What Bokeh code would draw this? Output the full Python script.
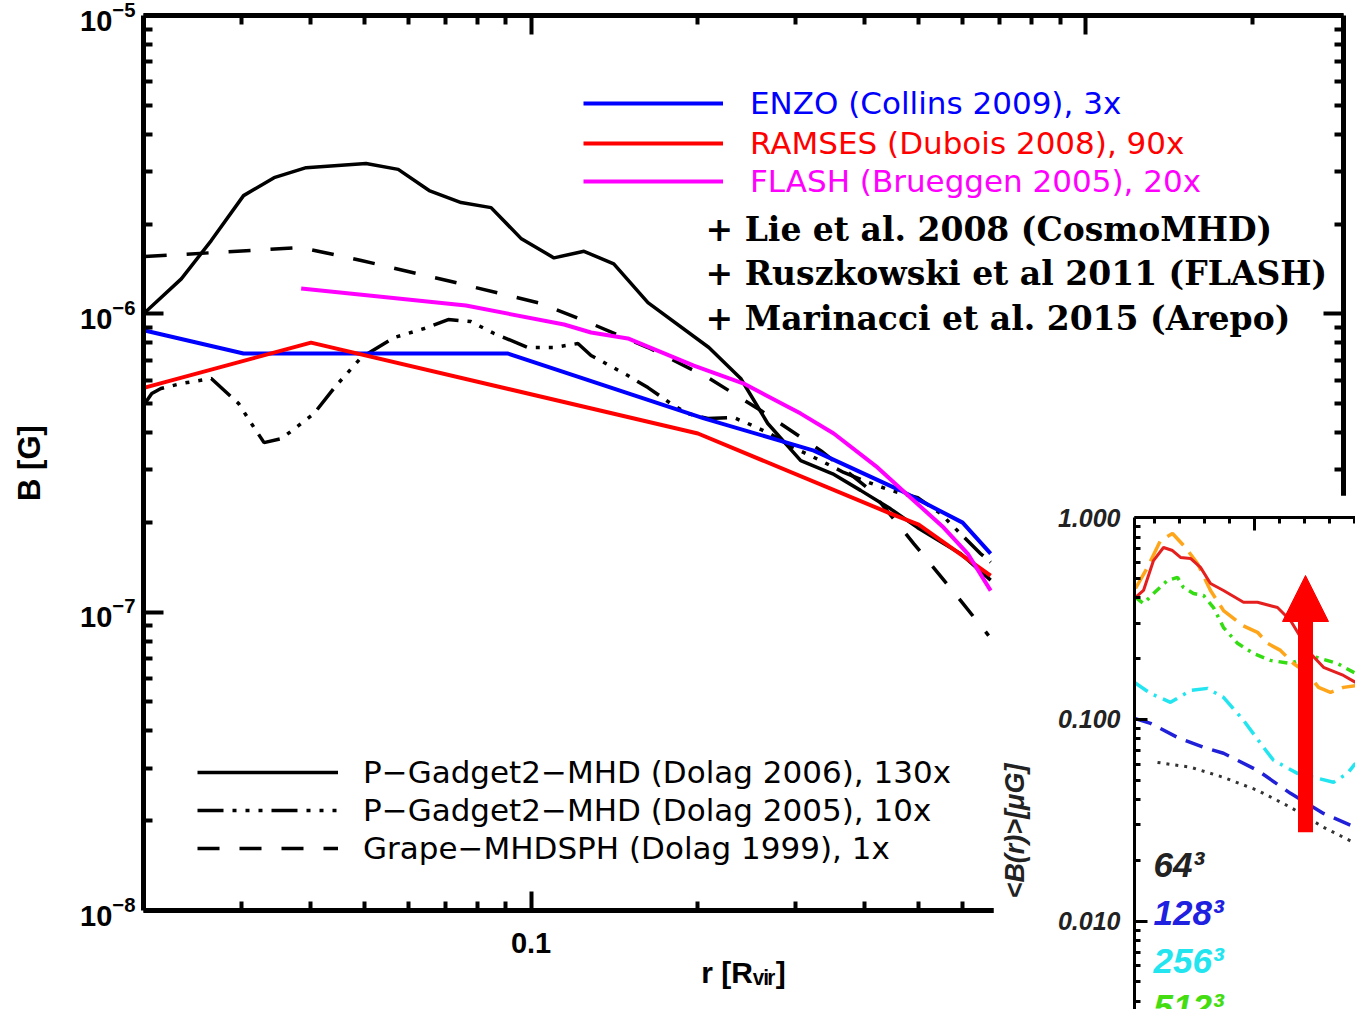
import math
from bokeh.plotting import figure
from bokeh.models import (Range1d, LogAxis, FixedTicker, LogTickFormatter,
                          CustomJSTickFormatter, PrintfTickFormatter, Legend, LegendItem,
                          Label, Arrow, NormalHead)
from bokeh.embed import file_html
from bokeh.resources import INLINE

# ---------------- main panel data (r in R_vir, B in Gauss) ----------------
gadget06_r = [0.0200, 0.0234, 0.0265, 0.0303, 0.0344, 0.0393, 0.0504, 0.0576, 0.0655, 0.0748,
              0.0847, 0.0959, 0.110, 0.1246, 0.141, 0.1625, 0.2093, 0.2389, 0.2673, 0.3065,
              0.350, 0.393, 0.445, 0.498, 0.5955, 0.6745]
gadget06_b = [1.00e-6, 1.31e-6, 1.76e-6, 2.49e-6, 2.86e-6, 3.09e-6, 3.19e-6, 3.05e-6, 2.59e-6, 2.36e-6,
              2.27e-6, 1.79e-6, 1.54e-6, 1.62e-6, 1.47e-6, 1.09e-6, 7.71e-7, 6.07e-7, 4.29e-7, 3.22e-7,
              2.91e-7, 2.56e-7, 2.22e-7, 1.92e-7, 1.57e-7, 1.28e-7]

gadget05_r = [0.0201, 0.0207, 0.0215, 0.0234, 0.0265, 0.0297, 0.0313, 0.0330, 0.0355, 0.0406,
              0.0442, 0.0494, 0.0567, 0.0642, 0.0709, 0.0779, 0.0858, 0.0988, 0.110, 0.1215,
              0.1283, 0.1354, 0.1495, 0.1625, 0.1788, 0.1918, 0.2084, 0.2321, 0.2460, 0.2673,
              0.2978, 0.3331, 0.3664, 0.3981, 0.4453, 0.4982, 0.5479, 0.5955, 0.6470, 0.6745]
gadget05_b = [5.00e-7, 5.41e-7, 5.62e-7, 5.84e-7, 6.07e-7, 5.00e-7, 4.29e-7, 3.70e-7, 3.82e-7, 4.63e-7,
              5.66e-7, 7.14e-7, 8.33e-7, 8.93e-7, 9.57e-7, 9.42e-7, 8.59e-7, 7.71e-7, 7.71e-7, 7.95e-7,
              7.25e-7, 6.87e-7, 6.21e-7, 5.66e-7, 5.00e-7, 4.63e-7, 4.46e-7, 4.49e-7, 4.29e-7, 4.00e-7,
              3.56e-7, 3.22e-7, 2.94e-7, 2.76e-7, 2.56e-7, 2.42e-7, 2.14e-7, 1.83e-7, 1.57e-7, 1.47e-7]

grape_r = [0.0201, 0.0385, 0.0494, 0.0718, 0.1042, 0.1283, 0.1625, 0.2084, 0.2597, 0.3331,
           0.4099, 0.4900, 0.5955, 0.6689]
grape_b = [1.556e-6, 1.668e-6, 1.509e-6, 1.283e-6, 1.083e-6, 9.28e-7, 7.71e-7, 6.12e-7, 4.74e-7, 3.48e-7,
           2.556e-7, 1.698e-7, 1.093e-7, 8.35e-8]

enzo_r = [0.0201, 0.0303, 0.0909, 0.2050, 0.3236, 0.4642, 0.6004, 0.6745]
enzo_b = [8.79e-7, 7.36e-7, 7.36e-7, 4.46e-7, 3.48e-7, 2.556e-7, 1.996e-7, 1.572e-7]

ramses_r = [0.0201, 0.0401, 0.200, 0.4453, 0.5003, 0.6745]
ramses_b = [5.66e-7, 8.01e-7, 3.97e-7, 2.14e-7, 1.966e-7, 1.327e-7]

flash_r = [0.0385, 0.0763, 0.1147, 0.1283, 0.1495, 0.1966, 0.2419, 0.3065, 0.3515, 0.4220,
           0.4838, 0.5548, 0.6131, 0.6745]
flash_b = [1.215e-6, 1.066e-6, 9.21e-7, 8.66e-7, 8.27e-7, 6.71e-7, 5.84e-7, 4.63e-7, 3.97e-7, 3.05e-7,
           2.42e-7, 1.921e-7, 1.572e-7, 1.181e-7]

legend_top = ["ENZO (Collins 2009), 3x", "RAMSES (Dubois 2008), 90x", "FLASH (Brueggen 2005), 20x"]
legend_bottom = ["P\u2212Gadget2\u2212MHD (Dolag 2006), 130x",
                 "P\u2212Gadget2\u2212MHD (Dolag 2005), 10x",
                 "Grape\u2212MHDSPH (Dolag 1999), 1x"]
other_refs = ["+ Lie et al. 2008 (CosmoMHD)",
              "+ Ruszkowski et al 2011 (FLASH)",
              "+ Marinacci et al. 2015 (Arepo)"]

x_major = [0.1, 1.0]
x_minor = [0.03, 0.04, 0.05, 0.06, 0.07, 0.08, 0.09, 0.2, 0.3, 0.4, 0.5, 0.6, 0.7, 0.8, 0.9, 2.0]
y_major = [1e-8, 1e-7, 1e-6, 1e-5]
y_minor = [k * 10.0 ** e for e in (-8, -7, -6) for k in range(2, 10)]

# ---------------- inset data (<B(r)> in muG) ----------------
ins_2048_r = [0.024, 0.056, 0.096, 0.136, 0.172, 0.204, 0.244, 0.284, 0.324, 0.376, 0.456, 0.512,
              0.592, 0.644, 0.724, 0.776, 0.856, 0.904]
ins_2048_b = [0.402, 0.435, 0.612, 0.710, 0.686, 0.634, 0.627, 0.566, 0.471, 0.435, 0.380, 0.380,
              0.358, 0.309, 0.212, 0.181, 0.165, 0.1525]
ins_1024_r = [0.024, 0.072, 0.124, 0.172, 0.224, 0.272, 0.324, 0.376, 0.452, 0.512, 0.552, 0.604,
              0.656, 0.712, 0.756, 0.804, 0.856, 0.904]
ins_1024_b = [0.445, 0.566, 0.769, 0.833, 0.710, 0.592, 0.435, 0.346, 0.292, 0.270, 0.238, 0.2196,
              0.189, 0.169, 0.144, 0.136, 0.144, 0.147]
ins_512_r = [0.024, 0.056, 0.096, 0.152, 0.192, 0.216, 0.256, 0.296, 0.336, 0.376, 0.432, 0.496,
             0.564, 0.644, 0.724, 0.832, 0.904]
ins_512_b = [0.402, 0.375, 0.420, 0.488, 0.505, 0.450, 0.420, 0.411, 0.358, 0.285, 0.238, 0.212,
             0.196, 0.189, 0.207, 0.189, 0.169]
ins_256_r = [0.020, 0.084, 0.164, 0.244, 0.312, 0.376, 0.456, 0.536, 0.576, 0.672, 0.816, 0.872, 0.904]
ins_256_b = [0.1525, 0.1345, 0.1214, 0.139, 0.1424, 0.1285, 0.0989, 0.0727, 0.0627, 0.0540, 0.0488,
             0.0540, 0.0606]
ins_128_r = [0.020, 0.084, 0.192, 0.296, 0.376, 0.512, 0.644, 0.776, 0.904]
ins_128_b = [0.1012, 0.0955, 0.0814, 0.0727, 0.0679, 0.0559, 0.0430, 0.0342, 0.0292]
ins_64_r = [0.112, 0.244, 0.376, 0.512, 0.644, 0.776, 0.904]
ins_64_b = [0.0612, 0.0579, 0.0516, 0.0445, 0.0367, 0.0292, 0.0243]

ins_labels = ["64\u00b3", "128\u00b3", "256\u00b3", "512\u00b3"]
ins_y_major = [0.01, 0.1, 1.0]
ins_y_minor = [k * 10.0 ** e for e in (-3, -2, -1) for k in range(2, 10)]
ins_x_major = [0.5]
ins_x_minor = [0.1, 0.2, 0.3, 0.4, 0.6, 0.7, 0.8, 0.9]
arrow_r = 0.704
arrow_b_start = 0.0276
arrow_b_end = 0.516

# ---------------- main figure ----------------
p = figure(width=1347, height=1005, x_axis_type="log", y_axis_type="log",
           x_range=Range1d(0.02, 2.92), y_range=Range1d(1e-8, 1e-5),
           output_backend="svg", toolbar_location=None,
           min_border_left=143, min_border_right=4, min_border_top=15, min_border_bottom=95)
p.grid.visible = False
p.outline_line_color = None
p.background_fill_color = "white"
p.border_fill_color = "white"

TICKFONT = "Liberation Sans"


def style_axis(ax, maj, mnr, show_labels):
    ax.axis_line_width = 5
    ax.axis_line_color = "black"
    ax.major_tick_in = maj
    ax.major_tick_out = 0
    ax.minor_tick_in = mnr
    ax.minor_tick_out = 0
    ax.major_tick_line_width = 4
    ax.minor_tick_line_width = 4
    ax.major_tick_line_color = "black"
    ax.minor_tick_line_color = "black"
    if show_labels:
        ax.major_label_text_font = TICKFONT
        ax.major_label_text_font_style = "bold"
        ax.major_label_text_font_size = "29px"
        ax.major_label_text_color = "black"
        ax.axis_label_text_font = TICKFONT
        ax.axis_label_text_font_style = "bold"
        ax.axis_label_text_font_size = "30px"
        ax.axis_label_text_color = "black"
    else:
        ax.formatter = CustomJSTickFormatter(code="return ''")
        ax.major_label_text_font_size = "0px"
        ax.major_label_standoff = 0


xb = p.xaxis[0]
xb.ticker = FixedTicker(ticks=x_major, minor_ticks=x_minor)
xb.formatter = CustomJSTickFormatter(code="return String(tick)")
style_axis(xb, 19, 9, True)
xb.major_label_standoff = 22
xb.axis_label = "r [R\u1d65\u1d62\u1d63]"
xb.axis_label_standoff = 0

yl = p.yaxis[0]
yl.ticker = FixedTicker(ticks=y_major, minor_ticks=y_minor)
yl.formatter = LogTickFormatter()
style_axis(yl, 20, 9, True)
yl.major_label_standoff = 8
yl.axis_label = "B [G]"
yl.axis_label_standoff = 30
yl.axis_label_text_font_size = "31px"

xt = LogAxis(ticker=FixedTicker(ticks=x_major, minor_ticks=x_minor))
style_axis(xt, 19, 9, False)
p.add_layout(xt, "above")
yr = LogAxis(ticker=FixedTicker(ticks=y_major, minor_ticks=y_minor))
style_axis(yr, 20, 9, False)
p.add_layout(yr, "right")

r_g06 = p.line(gadget06_r, gadget06_b, line_color="black", line_width=3.5)
r_g05 = p.line(gadget05_r, gadget05_b, line_color="black", line_width=3.5,
               line_dash="26 9 4 9 4 9 4 9")
r_gr = p.line(grape_r, grape_b, line_color="black", line_width=3.5, line_dash="22 20")
r_enzo = p.line(enzo_r, enzo_b, line_color="#0000ff", line_width=4)
r_ramses = p.line(ramses_r, ramses_b, line_color="#ff0000", line_width=4)
r_flash = p.line(flash_r, flash_b, line_color="#ff00ff", line_width=4)

LEGFONT = "DejaVu Sans"


def make_legend(items, loc, color, gw, stand):
    lg = Legend(items=items, location=loc, orientation="vertical",
                glyph_width=gw, glyph_height=36, label_height=36, label_standoff=stand,
                spacing=2, padding=0, margin=0, border_line_color=None,
                background_fill_alpha=0, label_text_font=LEGFONT,
                label_text_font_size="31px", label_text_color=color,
                label_text_baseline="alphabetic")
    p.add_layout(lg)
    return lg


make_legend([LegendItem(label=legend_top[0], renderers=[r_enzo])], (440, 789), "#0000ff", 140, 27)
make_legend([LegendItem(label=legend_top[1], renderers=[r_ramses])], (440, 749), "#ff0000", 140, 27)
make_legend([LegendItem(label=legend_top[2], renderers=[r_flash])], (440, 711), "#ff00ff", 140, 27)
make_legend([LegendItem(label=legend_bottom[0], renderers=[r_g06]),
             LegendItem(label=legend_bottom[1], renderers=[r_g05]),
             LegendItem(label=legend_bottom[2], renderers=[r_gr])], (54, 44), "black", 141, 25)

for txt, yy in zip(other_refs, [681, 637, 592]):
    p.add_layout(Label(x=562, y=yy, x_units="screen", y_units="screen", text=txt,
                       text_font="DejaVu Serif", text_font_style="bold",
                       text_font_size="33px", text_color="black", text_baseline="middle"))

# ---------------- inset figure ----------------
ins = figure(width=362, height=514, y_axis_type="log", x_axis_location="above",
             x_range=Range1d(0.02, 0.904), y_range=Range1d(0.003653, 1.0),
             output_backend="svg", toolbar_location=None,
             min_border_left=141, min_border_top=22, min_border_right=0, min_border_bottom=0,
             styles={"position": "absolute", "left": "993px", "top": "495px"})
ins.grid.visible = False
ins.outline_line_color = None
ins.background_fill_color = "white"
ins.border_fill_color = "white"

ix = ins.xaxis[0]
ix.ticker = FixedTicker(ticks=ins_x_major, minor_ticks=ins_x_minor)
ix.formatter = CustomJSTickFormatter(code="return ''")
ix.major_label_text_font_size = "0px"
ix.major_label_standoff = 0
iy = ins.yaxis[0]
iy.ticker = FixedTicker(ticks=ins_y_major, minor_ticks=ins_y_minor)
iy.formatter = PrintfTickFormatter(format="%.3f")
iy.major_label_text_font = TICKFONT
iy.major_label_text_font_style = "bold italic"
iy.major_label_text_font_size = "25px"
iy.major_label_text_color = "#222222"
iy.major_label_standoff = 14
# trailing em spaces push the visible label toward the lower (visible) part of the inset axis
iy.axis_label = "<B(r)>[\u03bcG]" + "\u2003" * 5
iy.axis_label_text_font = TICKFONT
iy.axis_label_text_font_style = "bold italic"
iy.axis_label_text_font_size = "27px"
iy.axis_label_text_color = "#222222"
iy.axis_label_standoff = 25
for ax in (ix, iy):
    ax.axis_line_width = 3
    ax.axis_line_color = "black"
    ax.major_tick_in = 13
    ax.major_tick_out = 0
    ax.minor_tick_in = 6
    ax.minor_tick_out = 0
    ax.major_tick_line_width = 3
    ax.minor_tick_line_width = 3
    ax.major_tick_line_color = "black"
    ax.minor_tick_line_color = "black"

ins.line(ins_64_r, ins_64_b, line_color="#333333", line_width=3, line_dash="3 6")
ins.line(ins_128_r, ins_128_b, line_color="#2020d8", line_width=3.5, line_dash="18 10")
ins.line(ins_256_r, ins_256_b, line_color="#22e5f0", line_width=3.5, line_dash="16 7 3 7")
ins.line(ins_512_r, ins_512_b, line_color="#33dd11", line_width=3.5, line_dash="9 6 3 6")
ins.line(ins_1024_r, ins_1024_b, line_color="#ffa51a", line_width=3.5, line_dash="22 9")
ins.line(ins_2048_r, ins_2048_b, line_color="#e51e1e", line_width=3)

ins.add_layout(Arrow(end=NormalHead(size=46, fill_color="#ff0000", line_color="#ff0000"),
                     x_start=arrow_r, y_start=arrow_b_start, x_end=arrow_r, y_end=arrow_b_end,
                     line_color="#ff0000", line_width=15))

for txt, yy, col in zip(ins_labels, [145, 97, 49, 3],
                        ["#222222", "#2020e0", "#22e5f0", "#44dd11"]):
    ins.add_layout(Label(x=19, y=yy, x_units="screen", y_units="screen", text=txt,
                         text_font=TICKFONT, text_font_style="bold italic",
                         text_font_size="35px", text_color=col, text_baseline="alphabetic"))

open("out.html", "w").write(file_html([p, ins], INLINE))
